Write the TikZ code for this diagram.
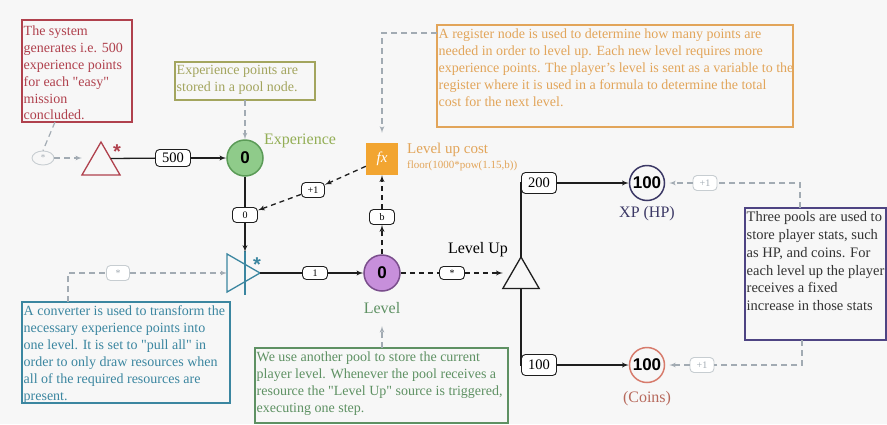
\documentclass[tikz,border=0pt]{standalone}
\usepackage{fontspec}
\setmainfont{Liberation Serif}
\newfontfamily\poolfont{Liberation Sans}
\usetikzlibrary{arrows,shapes,positioning,calc}

\definecolor{bgcol}{HTML}{F7F7F7}
\definecolor{linecol}{HTML}{1E1E1E}
\definecolor{hintcol}{HTML}{A2ABB3}
\definecolor{redcol}{HTML}{B0414D}
\definecolor{olivecol}{HTML}{A3A55E}
\definecolor{orangecol}{HTML}{E2A55A}
\definecolor{fxcol}{HTML}{F2A531}
\definecolor{bluecol}{HTML}{3B86A0}
\definecolor{greencol}{HTML}{5E9163}
\definecolor{purplecol}{HTML}{4E4483}
\definecolor{expfill}{HTML}{8FCB8A}
\definecolor{expdraw}{HTML}{5B9B57}
\definecolor{lvlfill}{HTML}{C78FDB}
\definecolor{lvldraw}{HTML}{7A4E8C}
\definecolor{xpcol}{HTML}{3C3966}
\definecolor{coincol}{HTML}{D77B6C}

\newcommand{\qt}{\textquotedbl}

\begin{document}
\begin{tikzpicture}[x=1pt,y=-1pt]
  \tikzstyle{note}=[draw, line width=1.2pt, anchor=north west, inner sep=0pt, outer sep=0pt]
  \tikzstyle{notetext}=[anchor=north west, align=left, inner xsep=1.5pt, inner ysep=3.5pt, font=\fontsize{14}{16.9}\selectfont]
  \tikzstyle{lbl}=[draw=linecol, fill=white, line width=0.9pt, rounded corners=4pt, inner sep=1pt, minimum width=25pt, minimum height=15pt, font=\fontsize{10}{11}\selectfont]
  \tikzstyle{biglbl}=[lbl, minimum width=35pt, minimum height=21pt, font=\fontsize{14.5}{15}\selectfont]
  \tikzstyle{glbl}=[lbl, draw=hintcol!60, text=hintcol]
  \tikzstyle{pool}=[circle, draw, line width=1.5pt, minimum size=36pt, inner sep=0pt, font=\poolfont\bfseries\fontsize{17}{17}\selectfont]
  \tikzstyle{tri}=[regular polygon, regular polygon sides=3, draw, line width=1.3pt, inner sep=0pt, outer sep=0pt]
  \tikzstyle{poolname}=[font=\fontsize{16}{18}\selectfont]
  \tikzstyle{flow}=[draw=linecol, line width=1.3pt]
  \tikzstyle{flowa}=[flow, -latex']
  \tikzstyle{state}=[draw=linecol, line width=1.3pt, dash pattern=on 5pt off 4pt, -latex']
  \tikzstyle{hint}=[draw=hintcol, line width=1.2pt, dash pattern=on 6pt off 4pt]

  \fill[bgcol] (0,0) rectangle (887,424);
  \useasboundingbox (0,0) rectangle (887,424);

  %% notes
  \node[note, draw=redcol, minimum width=110pt, minimum height=102pt,
    label={[notetext, text=redcol, inner ysep=5.5pt]north west:The system\\generates i.e. 500\\experience points\\for each \qt easy\qt\\mission\\concluded.}] (rednote) at (22,20) {};
  \node[note, draw=olivecol, minimum width=140pt, minimum height=38pt,
    label={[notetext, text=olivecol]north west:Experience points are\\stored in a pool node.}] (expnote) at (175,62) {};
  \node[note, draw=orangecol, minimum width=356pt, minimum height=102pt,
    label={[notetext, text=orangecol]north west:A register node is used to determine how many points are\\needed in order to level up. Each new level requires more\\experience points. The player's level is sent as a variable to the\\register where it is used in a formula to determine the total\\cost for the next level.}] (orangenote) at (437,25) {};
  \node[note, draw=bluecol, minimum width=208pt, minimum height=101pt,
    label={[notetext, text=bluecol]north west:A converter is used to transform the\\necessary experience points into\\one level. It is set to \qt pull all\qt\ in\\order to only draw resources when\\all of the required resources are\\present.}] (bluenote) at (22,302) {};
  \node[note, draw=greencol, minimum width=253pt, minimum height=75pt,
    label={[notetext, text=greencol]north west:We use another pool to store the current\\player level. Whenever the pool receives a\\resource the \qt Level Up\qt\ source is triggered,\\executing one step.}] (greennote) at (255,348) {};
  \node[note, draw=purplecol, minimum width=141pt, minimum height=132pt,
    label={[notetext, text=black!80, font=\fontsize{14.5}{17.8}\selectfont]north west:Three pools are used to\\store player stats, such\\as HP, and coins. For\\each level up the player\\receives a fixed\\increase in those stats}] (purplenote) at (745,208) {};

  %% elements
  \node[ellipse, draw=hintcol!60, line width=0.9pt, minimum width=22pt, minimum height=14pt, inner sep=0pt, text=hintcol, font=\fontsize{9}{9}\selectfont] (mission) at (43,158) {*};
  \node[tri, draw=redcol, minimum size=44pt] (redsrc) at (101,164) {};
  \node[text=redcol, font=\poolfont\bfseries\fontsize{20}{20}\selectfont] (redstar) at (117,152) {*};
  \node[pool, fill=expfill, draw=expdraw] (exp) at (245,158) {0};
  \node[poolname, text=olivecol!90!green] (expname) at (300,141) {Experience};
  \node[rectangle, fill=fxcol, minimum size=32pt, inner sep=0pt, text=white, font=\itshape\fontsize{15}{15}\selectfont] (cost) at (382,159) {fx};
  \node[anchor=west, text=orangecol, font=\fontsize{15}{16}\selectfont, inner sep=0pt] (costname) at (407,150) {Level up cost};
  \node[anchor=west, text=orangecol, font=\fontsize{11}{12}\selectfont, inner sep=0pt] (costformula) at (407,166) {floor(1000*pow(1.15,b))};
  \node[tri, draw=bluecol, shape border rotate=-90, minimum size=44pt] (conv) at (238,273) {};
  \draw[bluecol, line width=1.3pt] (conv.center) ++(7,-22) -- ++(0,44);
  \node[text=bluecol, font=\poolfont\bfseries\fontsize{20}{20}\selectfont] (bluestar) at (257,265) {*};
  \coordinate (convtop) at (245,252);
  \node[pool, fill=lvlfill, draw=lvldraw] (level) at (382,273) {0};
  \node[poolname, text=greencol] (levelname) at (382,308) {Level};
  \node[tri, draw=linecol, minimum size=42pt] (lvlup) at (521,278) {};
  \node[poolname] (lvlupname) at (478,250) {Level Up};
  \node[pool, draw=xpcol, minimum size=35pt] (xp) at (647,183) {100};
  \node[poolname, text=xpcol] (xpname) at (647,214) {XP (HP)};
  \node[pool, draw=coincol, minimum size=35pt] (coins) at (647,365) {100};
  \node[poolname, text=coincol!85!black] (coinsname) at (647,399) {(Coins)};

  %% edge labels
  \node[biglbl, minimum height=17pt] (l500) at (173,158) {500};
  \node[lbl] (l0) at (245,215) {0};
  \node[lbl, minimum width=23pt] (lplus) at (313,190) {+1};
  \node[lbl] (lb) at (382,217) {b};
  \node[lbl, minimum height=13pt] (l1) at (315,273) {1};
  \node[lbl, minimum height=13pt] (lstar) at (452,273) {*};
  \node[biglbl] (l200) at (539,183) {200};
  \node[biglbl] (l100) at (539,365) {100};
  \node[glbl, minimum width=23pt] (lconvin) at (118,273) {*};
  \node[glbl, minimum width=24pt] (lxp) at (705,183) {+1};
  \node[glbl, minimum width=24pt] (lcoins) at (702,365) {+1};

  %% connections
  \draw[hint] ([xshift=33pt]rednote.south west) -- (mission.north);
  \draw[hint, -latex'] (mission) -- (mission -| redsrc.corner 2);
  \draw[flow] (redsrc.side 3) -- (l500);
  \draw[flowa] (l500) -- (exp);
  \draw[hint, -latex'] (expnote) -- (exp);
  \draw[flow] (exp) -- (l0);
  \draw[flowa] (l0) -- (convtop);
  \draw[state] (cost) -- (lplus);
  \draw[state] (lplus) -- (l0);
  \draw[hint, -latex', shorten >=10pt] ([yshift=-8pt]orangenote.north west) -| (cost.north);
  \draw[hint] ([xshift=46pt]bluenote.north west) |- (lconvin);
  \draw[hint, -latex'] (lconvin) -- (conv);
  \draw[flow] (conv.corner 1) -- (l1);
  \draw[flowa] (l1) -- (level);
  \draw[state] (level) -- (lb);
  \draw[state] (lb) -- (cost);
  \draw[hint, -latex', shorten >=9pt] (greennote.north -| levelname) -- (levelname);
  \draw[state, -] (level) -- (lstar);
  \draw[state] (lstar) -- (lstar -| lvlup.corner 2);
  \draw[flow] (lvlup.corner 1) |- (l200.west);
  \draw[flowa] (l200) -- (xp);
  \draw[flow] (lvlup.south) |- (l100.west);
  \draw[flowa] (l100) -- (coins);
  \draw[hint] ([xshift=55pt]purplenote.north west) |- (lxp);
  \draw[hint, -latex', shorten >=4pt] (lxp) -- (xp);
  \draw[hint] ([xshift=57pt]purplenote.south west) |- (lcoins);
  \draw[hint, -latex', shorten >=4pt] (lcoins) -- (coins);
\end{tikzpicture}
\end{document}
